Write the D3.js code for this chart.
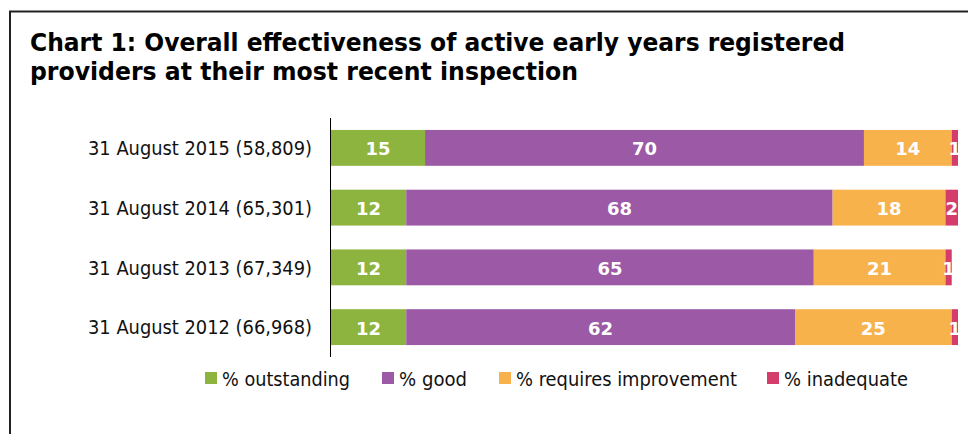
<!DOCTYPE html>
<html>
<head>
<meta charset="utf-8">
<script src="https://cdn.jsdelivr.net/npm/d3@7"></script>
<style>
  html, body { margin: 0; padding: 0; background: #fff; }
  svg { display: block; }
</style>
</head>
<body>
<svg id="chart" width="968" height="434"></svg>
<script>
// Inspection outcomes by year (percentages of providers)
const categories = [
  "31 August 2015 (58,809)",
  "31 August 2014 (65,301)",
  "31 August 2013 (67,349)",
  "31 August 2012 (66,968)"
];
const seriesNames = ["% outstanding", "% good", "% requires improvement", "% inadequate"];
const outstanding = [15, 12, 12, 12];
const good = [70, 68, 65, 62];
const requiresImprovement = [14, 18, 21, 25];
const inadequate = [1, 2, 1, 1];
const colors = ["#8db43e", "#9b59a6", "#f8b24c", "#d43d6b"];
const titleLines = [
  "Chart 1: Overall effectiveness of active early years registered",
  "providers at their most recent inspection"
];

const svg = d3.select("#chart");
const font = "'DejaVu Sans', Verdana, sans-serif";

// outer frame
svg.append("rect")
  .attr("x", 10).attr("y", 11.5)
  .attr("width", 1000).attr("height", 500)
  .attr("fill", "none").attr("stroke", "#222").attr("stroke-width", 2);

// title
const titleWidths = [815, 548];
svg.append("g").selectAll("text").data(titleLines).join("text")
  .attr("x", 30)
  .attr("y", (d, i) => 51 + i * 29)
  .attr("font-family", font)
  .attr("font-weight", "bold")
  .attr("font-size", 25)
  .attr("fill", "#000")
  .attr("textLength", (d, i) => titleWidths[i])
  .attr("lengthAdjust", "spacingAndGlyphs")
  .text(d => d);

const x = d3.scaleLinear().domain([0, 100]).range([331, 958]);
const y = d3.scaleBand().domain(categories).range([118, 357]).paddingInner(0.4).paddingOuter(0.2);

const stackData = categories.map((c, i) => ({
  cat: c,
  [seriesNames[0]]: outstanding[i],
  [seriesNames[1]]: good[i],
  [seriesNames[2]]: requiresImprovement[i],
  [seriesNames[3]]: inadequate[i]
}));
const stacked = d3.stack().keys(seriesNames)(stackData);

svg.append("defs").append("clipPath").attr("id", "plotClip")
  .append("rect").attr("x", 331).attr("y", 100).attr("width", 958 - 331).attr("height", 270);

const layers = svg.append("g").attr("clip-path", "url(#plotClip)")
  .selectAll("g").data(stacked).join("g")
  .attr("fill", (d, i) => colors[i]);

layers.selectAll("rect").data(d => d).join("rect")
  .attr("x", d => x(d[0]))
  .attr("y", d => y(d.data.cat))
  .attr("width", d => x(d[1]) - x(d[0]))
  .attr("height", y.bandwidth());

layers.selectAll("text").data(d => d).join("text")
  .attr("x", d => (x(d[0]) + x(d[1])) / 2)
  .attr("y", d => y(d.data.cat) + y.bandwidth() / 2 + 1)
  .attr("dy", "0.36em")
  .attr("text-anchor", "middle")
  .attr("font-family", font)
  .attr("font-weight", "bold")
  .attr("font-size", 18)
  .attr("fill", "#fff")
  .text(d => d[1] - d[0]);

// category axis
const yAxis = svg.append("g")
  .attr("transform", "translate(331,0)")
  .call(d3.axisLeft(y).tickSize(0).tickPadding(19));
yAxis.select(".domain").remove();
yAxis.selectAll("text")
  .attr("font-family", font)
  .attr("font-size", 19)
  .attr("fill", "#111")
  .attr("dy", "0.38em")
  .attr("textLength", 224)
  .attr("lengthAdjust", "spacingAndGlyphs");
svg.append("line").attr("x1", 330.5).attr("x2", 330.5).attr("y1", 118).attr("y2", 357)
  .attr("stroke", "#000");

// legend
const legendX = [205, 382, 499, 767];
const legendTextW = [128, 68, 221, 124];
const legend = svg.append("g").selectAll("g").data(seriesNames).join("g")
  .attr("transform", (d, i) => `translate(${legendX[i]},372)`);
legend.append("rect").attr("width", 12).attr("height", 12).attr("fill", (d, i) => colors[i]);
legend.append("text")
  .attr("x", 17).attr("y", 7).attr("dy", "0.36em")
  .attr("font-family", font).attr("font-size", 19).attr("fill", "#111")
  .attr("textLength", (d, i) => legendTextW[i])
  .attr("lengthAdjust", "spacingAndGlyphs")
  .text(d => d);
</script>
</body>
</html>
